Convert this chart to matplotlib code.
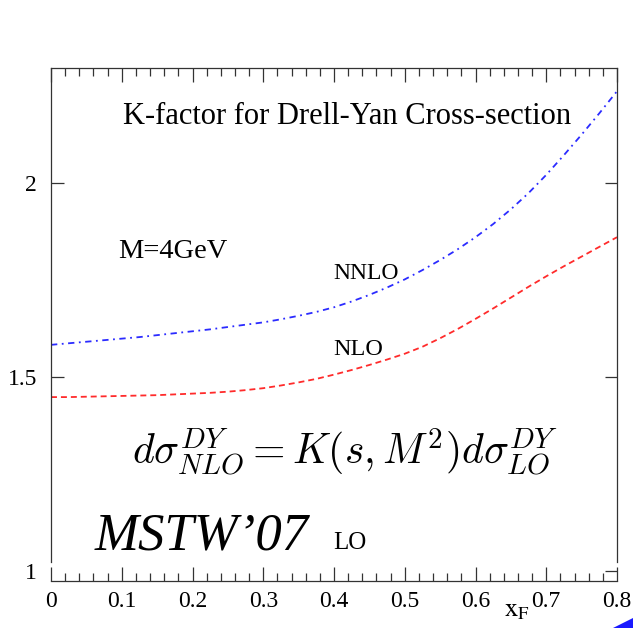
import numpy as np
import matplotlib
matplotlib.use("Agg")
import matplotlib.pyplot as plt
from matplotlib.patches import Polygon

# K-factor vs x_F for Drell-Yan at M = 4 GeV
x_f = [0.0, 0.025, 0.05, 0.075, 0.1, 0.125, 0.15, 0.175, 0.2, 0.225,
       0.25, 0.275, 0.3, 0.325, 0.35, 0.375, 0.4, 0.425, 0.45, 0.475,
       0.5, 0.525, 0.55, 0.575, 0.6, 0.625, 0.65, 0.675, 0.7, 0.725,
       0.75, 0.775, 0.8]
k_nnlo = [1.583, 1.587, 1.591, 1.595, 1.599, 1.603, 1.608, 1.613, 1.618, 1.623,
          1.629, 1.635, 1.641, 1.649, 1.658, 1.668, 1.680, 1.695, 1.712, 1.731,
          1.752, 1.776, 1.802, 1.830, 1.861, 1.895, 1.933, 1.975, 2.022, 2.073,
          2.126, 2.181, 2.238]
k_nlo = [1.448, 1.448, 1.449, 1.450, 1.451, 1.452, 1.453, 1.455, 1.457, 1.459,
         1.462, 1.466, 1.471, 1.478, 1.486, 1.495, 1.506, 1.518, 1.531, 1.545,
         1.560, 1.578, 1.600, 1.624, 1.650, 1.677, 1.705, 1.733, 1.760, 1.786,
         1.811, 1.836, 1.861]

x_ticks = [0, 0.1, 0.2, 0.3, 0.4, 0.5, 0.6, 0.7, 0.8]
x_ticklabels = ["0", "0.1", "0.2", "0.3", "0.4", "0.5", "0.6", "0.7", "0.8"]
y_ticks = [1, 1.5, 2]
y_ticklabels = ["1", "1.5", "2"]

plt.rcParams['font.family'] = ['Liberation Serif', 'DejaVu Serif']

W, H = 633, 628
fig = plt.figure(figsize=(W/100, H/100), dpi=100)
ax = fig.add_axes([51/W, 1-581/H, (617-51)/W, (581-68)/H])

ax.plot(x_f, k_nnlo, color='#2b2bff', lw=1.3, dashes=(3.5, 2.5, 1, 2.5))
ax.plot(x_f, k_nlo, color='#ff2b2b', lw=1.3, dashes=(3.3, 2.2))

ax.set_xlim(0, 0.8)
ax.set_ylim(0.973, 2.298)

ax.set_xticks(x_ticks)
ax.set_xticklabels(x_ticklabels)
ax.set_xticks(np.arange(0, 0.81, 0.02), minor=True)
ax.set_yticks(y_ticks)
ax.set_yticklabels(y_ticklabels)
ax.yaxis.get_major_ticks()[0].tick1line.set_visible(False)
ax.yaxis.get_major_ticks()[0].tick2line.set_visible(False)

ax.tick_params(axis='x', which='major', direction='in', length=10, width=0.9,
               top=True, labelsize=17, pad=7, color='#333333')
ax.tick_params(axis='x', which='minor', direction='in', length=5.5, width=0.9,
               top=True, color='#333333')
ax.tick_params(axis='y', which='major', direction='in', length=9, width=0.9,
               right=True, labelsize=17, pad=10, color='#333333')

for s in ax.spines.values():
    s.set_linewidth(0.9)
    s.set_color('#333333')
# frame sides stop short of the x axis line
ax.spines['left'].set_bounds(1.022, 2.298)
ax.spines['right'].set_bounds(1.022, 2.298)

ax.text(0.418, 2.172, "K-factor for Drell-Yan Cross-section", fontsize=22,
        ha='center', va='center')
ax.text(0.0947, 1.823, "M=4GeV", fontsize=20.5, ha='left', va='center')
ax.text(0.3986, 1.768, "NNLO", fontsize=17, ha='left', va='center')
ax.text(0.3986, 1.572, "NLO", fontsize=17.5, ha='left', va='center')
ax.text(0.3986, 1.072, "LO", fontsize=18, ha='left', va='center')
ax.text(0.062, 1.088, "MSTW\u201907", fontsize=38, style='italic',
        ha='left', va='center')
ax.text(0.4155, 1.306,
        r"$d\sigma^{DY}_{NLO} = K(s,M^2)d\sigma^{DY}_{LO}$",
        fontsize=30, ha='center', va='center', math_fontfamily='cm')

fig.text(517/W, 1-611/H, r"$\mathrm{x}_{\mathrm{F}}$", fontsize=19,
         ha='center', va='center', math_fontfamily='stix')

# corner marker
fig.patches.append(Polygon([[613/W, 0], [1, 10/H], [1, 0]], closed=True,
                           transform=fig.transFigure, color='#1a1aff',
                           lw=0, figure=fig))

fig.savefig("out.png", dpi=100)
